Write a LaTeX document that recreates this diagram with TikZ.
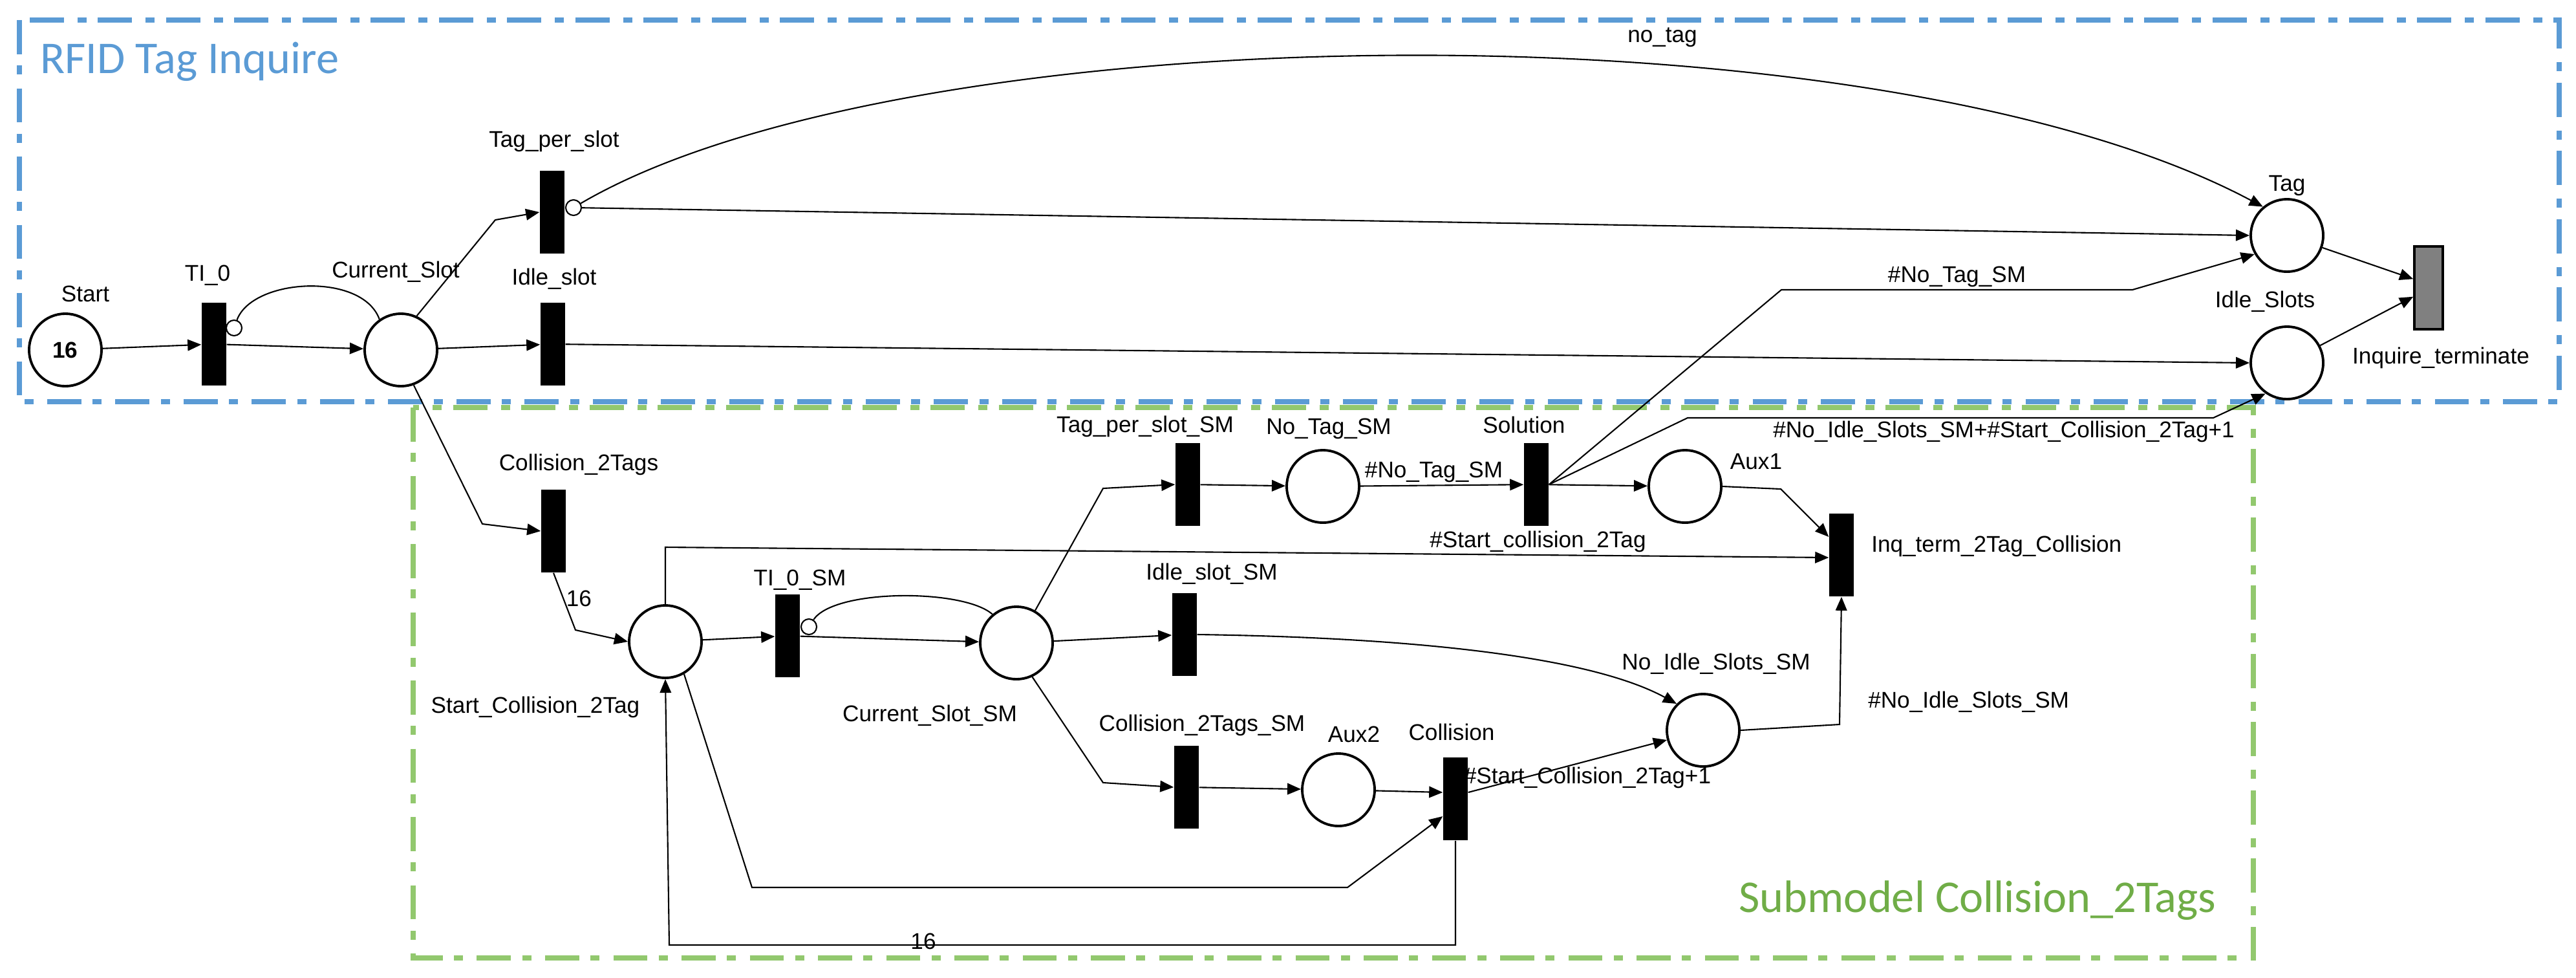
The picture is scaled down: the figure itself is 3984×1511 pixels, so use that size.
\documentclass[tikz,border=0pt]{standalone}
\usepackage{fontspec}
\setmainfont{Liberation Sans}
\newfontfamily\boxfont{Carlito}
\usetikzlibrary{arrows.meta}
\definecolor{boxblue}{RGB}{91,155,213}
\definecolor{boxgreen}{RGB}{146,200,110}
\definecolor{txtgreen}{RGB}{112,173,71}
\begin{document}
\begin{tikzpicture}[x=0.01cm,y=-0.01cm,
    every node/.style={font=\fontsize{10}{11}\selectfont},
    place/.style={circle,draw,line width=1.1pt,minimum size=1.12cm,inner sep=0pt},
    trans/.style={rectangle,fill=black,minimum width=0.38cm,minimum height=1.28cm,inner sep=0pt},
    inh/.style={circle,draw,fill=white,line width=0.6pt,minimum size=0.24cm,inner sep=0pt},
    lbl/.style={inner sep=1pt},
    arc/.style={line width=0.6pt,-{Triangle[length=6pt,width=5pt]}},
    plain/.style={line width=0.6pt},
    frame/.style={line width=2.4pt,dash pattern=on 15pt off 5pt on 4pt off 6pt}]
\useasboundingbox (0,0) rectangle (3984,1511);

% frames
\draw[frame,boxgreen] (639,630) rectangle (3485,1481);
\draw[frame,boxblue] (30,31) rectangle (3958,621);
\node[text=boxblue,anchor=west,font=\boxfont\fontsize{20}{24}\selectfont] (t1) at (50,95) {RFID Tag Inquire};
\node[text=txtgreen,anchor=east,font=\boxfont\fontsize{20}{24}\selectfont] (t2) at (3440,1392) {Submodel Collision\_2Tags};

% upper net
\node[place] (start) at (101,541) {\textbf{16}};
\node[trans] (ti0) at (331,532) {};
\node[place] (cs) at (620,541) {};
\node[trans] (tps) at (854,328) {};
\node[trans] (is) at (855,532) {};
\node[place] (tag) at (3537,364) {};
\node[place] (idles) at (3537,561) {};
\node[trans,fill=gray,draw=black,line width=1pt,minimum width=0.44cm] (iqt) at (3756,445) {};
\node[inh] (inh1) at (362,507) {};
\node[inh] (inh2) at (887,321) {};

\node[lbl] at (132,454) {Start};
\node[lbl] at (321,426) {TI\_0};
\node[lbl] at (612,420) {Current\_Slot};
\node[lbl] at (857,218) {Tag\_per\_slot};
\node[lbl] at (857,431) {Idle\_slot};
\node[lbl] at (3537,287) {Tag};
\node[lbl] at (3503,466) {Idle\_Slots};
\node[lbl] at (3775,553) {Inquire\_terminate};

% lower net
\node[trans] (c2t) at (856,821) {};
\node[place] (sc) at (1029,992) {};
\node[trans] (ti0sm) at (1218,983) {};
\node[inh] (inh3) at (1251,969) {};
\node[place] (cssm) at (1572,994) {};
\node[trans] (tpssm) at (1837,749) {};
\node[place] (ntsm) at (2046,752) {};
\node[trans] (sol) at (2376,749) {};
\node[place] (aux1) at (2606,752) {};
\node[trans] (iqc) at (2848,858) {};
\node[trans] (issm) at (1832,981) {};
\node[trans] (c2tsm) at (1835,1217) {};
\node[place] (aux2) at (2070,1221) {};
\node[trans] (col) at (2251,1235) {};
\node[place] (nissm) at (2634,1129) {};

\node[lbl] at (895,718) {Collision\_2Tags};
\node[lbl] at (828,1093) {Start\_Collision\_2Tag};
\node[lbl] at (1237,897) {TI\_0\_SM};
\node[lbl] at (1438,1106) {Current\_Slot\_SM};
\node[lbl] at (1771,659) {Tag\_per\_slot\_SM};
\node[lbl] at (2055,663) {No\_Tag\_SM};
\node[lbl] at (2357,657) {Solution};
\node[lbl] at (2716,714) {Aux1};
\node[lbl] at (1874,887) {Idle\_slot\_SM};
\node[lbl] at (1859,1121) {Collision\_2Tags\_SM};
\node[lbl] at (2094,1135) {Aux2};
\node[lbl] at (2245,1132) {Collision};
\node[lbl] at (2654,1026) {No\_Idle\_Slots\_SM};
\node[lbl,anchor=west] at (2890,844) {Inq\_term\_2Tag\_Collision};

% upper arcs
\draw[arc] (start) -- (ti0);
\draw[arc] (ti0) -- (cs);
\draw[plain] (inh1) .. controls (390,430) and (560,420) .. (cs.125);
\draw[arc] (cs.65) -- (766,340) -- (tps.west);
\draw[arc] (cs) -- (is);
\draw[arc] (cs.290) -- (746,810) -- (c2t.west);
\draw[arc] (inh2) -- (tag.west);
\draw[arc] (inh2) .. controls (1400,20) and (2900,0) .. (tag.130);
\node[lbl] at (2571,58) {no\_tag};
\draw[arc] (is) -- (idles.west);
\draw[arc] (tag) -- (iqt.150);
\draw[arc] (idles) -- (iqt.210);
\draw[arc] (sol.east) -- (2755,448) -- node[above,lbl] {\#No\_Tag\_SM} (3298,448) -- (tag.210);
\draw[arc] (sol.east) -- (2610,646) -- (3423,646) -- (idles.235);
\node[lbl] at (3099,667) {\#No\_Idle\_Slots\_SM+\#Start\_Collision\_2Tag+1};

% lower arcs
\draw[arc] (c2t.south) -- node[right,lbl,pos=0.45] {16} (890,974) -- (sc.west);
\draw[arc] (sc) -- (ti0sm);
\draw[arc] (ti0sm) -- (cssm);
\draw[plain] (inh3) .. controls (1290,910) and (1490,910) .. (cssm.130);
\draw[arc] (sc.north) -- (1029,846) -- node[above,lbl,pos=0.75] {\#Start\_collision\_2Tag} (iqc.west |- 0,862);
\draw[arc] (cssm.60) -- (1706,755) -- (tpssm.west);
\draw[arc] (tpssm) -- (ntsm);
\draw[arc] (ntsm) -- node[above,lbl,pos=0.45] {\#No\_Tag\_SM} (sol);
\draw[arc] (sol) -- (aux1);
\draw[arc] (aux1.east) -- (2754,756) -- (iqc.west |- 0,830);
\draw[arc] (cssm) -- (issm);
\draw[arc] (issm.east) .. controls (2150,985) and (2450,1010) .. (nissm.135);
\draw[arc] (cssm.295) -- (1706,1210) -- (c2tsm.west);
\draw[arc] (c2tsm) -- (aux2);
\draw[arc] (aux2) -- (col.west |- 0,1225);
\draw[arc] (col.east |- 0,1225) -- (nissm.195);
\node[lbl] at (2455,1202) {\#Start\_Collision\_2Tag+1};
\draw[arc] (nissm.east) -- (2845,1120) -- (iqc.south);
\node[lbl,anchor=west] at (2885,1085) {\#No\_Idle\_Slots\_SM};
\draw[arc] (sc.300) -- (1163,1372) -- (2084,1372) -- (col.west |- 0,1262);
\draw[arc] (col.south) -- (2251,1461) -- (1035,1461) -- (sc.south);
\node[lbl] at (1428,1455) {16};
\end{tikzpicture}
\end{document}
